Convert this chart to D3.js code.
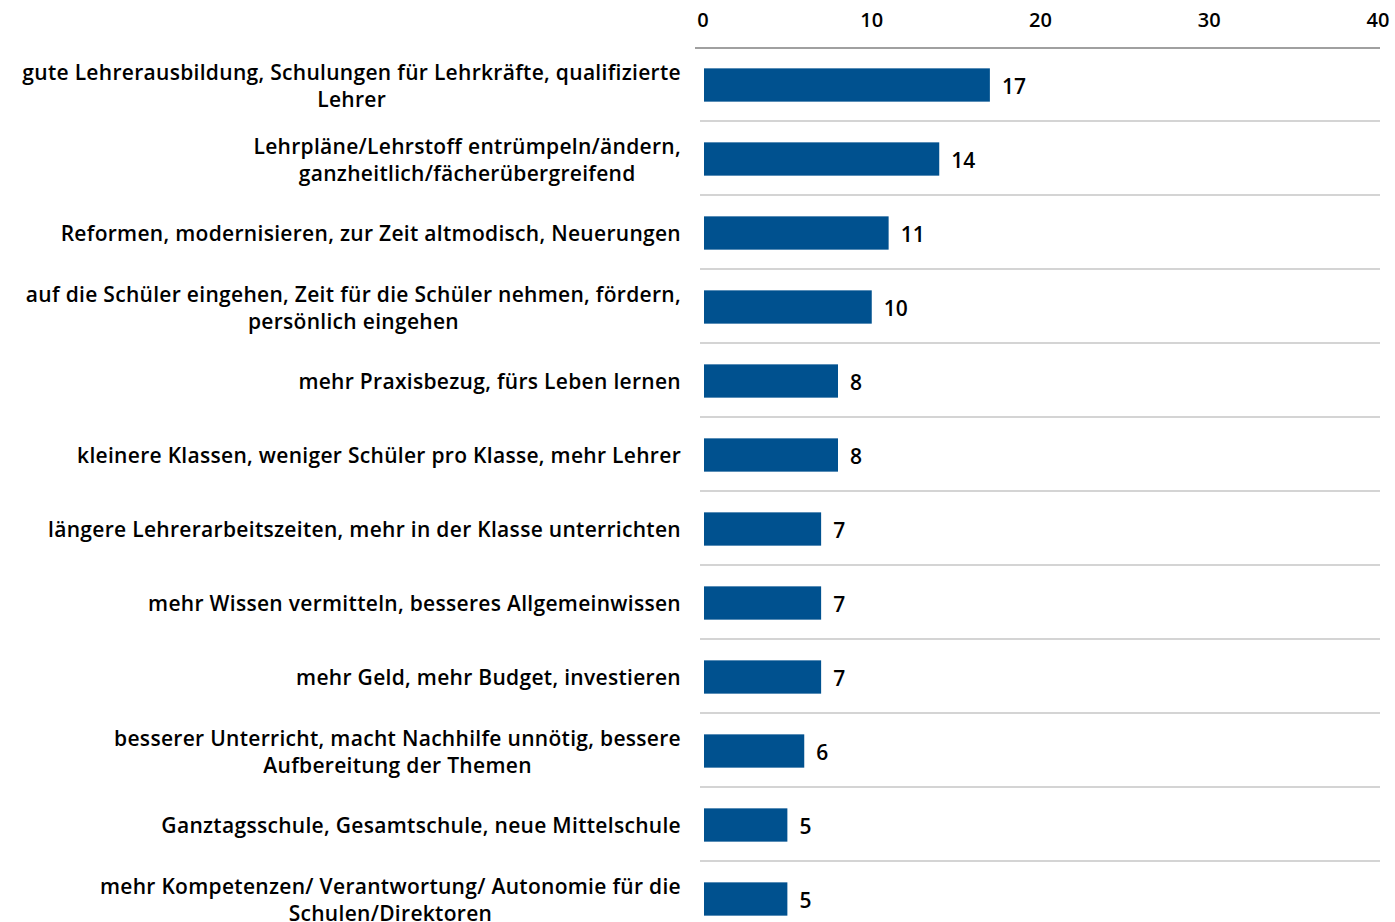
<!DOCTYPE html>
<html>
<head>
<meta charset="utf-8">
<script src="https://cdn.jsdelivr.net/npm/d3@7"></script>
<style>
  html, body { margin: 0; padding: 0; background: #fff; overflow: hidden; }
  svg { display: block; font-family: "Open Sans", sans-serif; }
</style>
</head>
<body>
<svg id="chart"></svg>
<script>
const categories = [
    ['gute Lehrerausbildung, Schulungen für Lehrkräfte, qualifizierte', 'Lehrer'],
    ['Lehrpläne/Lehrstoff entrümpeln/ändern,', 'ganzheitlich/fächerübergreifend'],
    ['Reformen, modernisieren, zur Zeit altmodisch, Neuerungen'],
    ['auf die Schüler eingehen, Zeit für die Schüler nehmen, fördern,', 'persönlich eingehen'],
    ['mehr Praxisbezug, fürs Leben lernen'],
    ['kleinere Klassen, weniger Schüler pro Klasse, mehr Lehrer'],
    ['längere Lehrerarbeitszeiten, mehr in der Klasse unterrichten'],
    ['mehr Wissen vermitteln, besseres Allgemeinwissen'],
    ['mehr Geld, mehr Budget, investieren'],
    ['besserer Unterricht, macht Nachhilfe unnötig, bessere', 'Aufbereitung der Themen'],
    ['Ganztagsschule, Gesamtschule, neue Mittelschule'],
    ['mehr Kompetenzen/ Verantwortung/ Autonomie für die', 'Schulen/Direktoren']
];
const values = [17, 14, 11, 10, 8, 8, 7, 7, 7, 6, 5, 5];
const tickValues = [0, 10, 20, 30, 40];

const WIDTH = 1395;
const HEIGHT = 922;
const LEFT = 703;
const RIGHT = 1378;
const TOP = 48;
const ROW = 74;
const LABEL_RIGHT = 681;

const barColor = '#00518f';

const svg = d3.select('#chart')
    .attr('width', WIDTH)
    .attr('height', HEIGHT);

const x = d3.scaleLinear().domain([0, 40]).range([LEFT, RIGHT]);

const y = d3.scaleBand()
    .domain(d3.range(values.length))
    .range([TOP, TOP + ROW * values.length])
    .paddingInner(0.55)
    .paddingOuter(0.275);

// tick labels on top
svg.append('g')
    .selectAll('text')
    .data(tickValues)
    .join('text')
    .attr('x', d => x(d))
    .attr('y', 19)
    .attr('text-anchor', 'middle')
    .attr('dominant-baseline', 'central')
    .style('font-size', '20px')
    .style('font-weight', 600)
    .style('fill', '#000')
    .text(d => d);

// axis line
svg.append('line')
    .attr('x1', LEFT - 8).attr('x2', RIGHT + 2)
    .attr('y1', TOP).attr('y2', TOP)
    .attr('stroke', '#a0a0a0')
    .attr('stroke-width', 2);

// row separators
svg.append('g')
    .selectAll('line')
    .data(d3.range(1, values.length + 1))
    .join('line')
    .attr('x1', LEFT - 3).attr('x2', RIGHT + 2)
    .attr('y1', i => TOP + ROW * i - 1)
    .attr('y2', i => TOP + ROW * i - 1)
    .attr('stroke', '#c6c6c6')
    .attr('stroke-width', 1.5);

// bars
svg.append('g')
    .selectAll('rect')
    .data(values)
    .join('rect')
    .attr('x', x(0) + 1)
    .attr('y', (d, i) => y(i))
    .attr('width', d => x(d) - x(0) - 1)
    .attr('height', y.bandwidth())
    .attr('fill', barColor);

// value labels
svg.append('g')
    .selectAll('text')
    .data(values)
    .join('text')
    .attr('x', d => x(d) + 12)
    .attr('y', (d, i) => y(i) + y.bandwidth() / 2 + 1)
    .attr('dominant-baseline', 'central')
    .style('font-size', '21px')
    .style('font-weight', 600)
    .style('fill', '#000')
    .text(d => d);

// category labels, block right-aligned, lines centered within block
const labelG = svg.append('g');
categories.forEach((lines, i) => {
    const cy = y(i) + y.bandwidth() / 2;
    const lineH = 27;
    const g = labelG.append('g');
    const texts = lines.map((line, j) => g.append('text')
        .attr('y', cy + (j - (lines.length - 1) / 2) * lineH)
        .attr('dominant-baseline', 'central')
        .attr('text-anchor', 'middle')
        .style('font-size', '21px')
        .style('font-weight', 600)
        .style('letter-spacing', '0.3px')
        .style('fill', '#000')
        .text(line));
    const maxW = d3.max(texts, t => t.node().getComputedTextLength());
    texts.forEach(t => t.attr('x', LABEL_RIGHT - maxW / 2));
});
</script>
</body>
</html>
